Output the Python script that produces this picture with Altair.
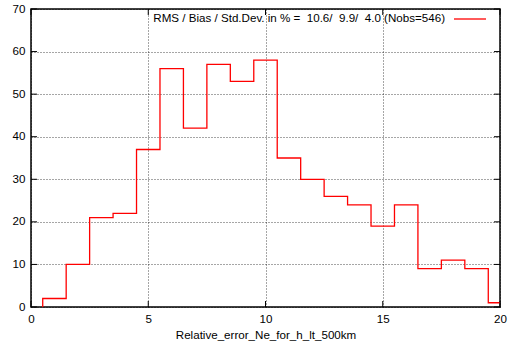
import altair as alt
import pandas as pd

bin_centers = [1, 2, 3, 4, 5, 6, 7, 8, 9, 10, 11, 12, 13, 14, 15, 16, 17, 18, 19, 20]
counts = [2, 10, 21, 22, 37, 56, 42, 57, 53, 58, 35, 30, 26, 24, 19, 24, 9, 11, 9, 1]
x_ticks = [0, 5, 10, 15, 20]
y_ticks = [0, 10, 20, 30, 40, 50, 60, 70]
legend_text = "RMS / Bias / Std.Dev. in % =  10.6/  9.9/  4.0 (Nobs=546)".replace(" ", "\u00a0")
x_title = "Relative_error_Ne_for_h_lt_500km"

# step line points (gnuplot histeps style)
xs = [bin_centers[0] - 0.5]
ys = [0]
for c, v in zip(bin_centers, counts):
    xs.append(c - 0.5)
    ys.append(v)
xs.append(20)
ys.append(counts[-1])
step_df = pd.DataFrame({"x": xs, "y": ys, "o": list(range(len(xs)))})

W, H = 469, 298
FONT = "Liberation Sans"
FS = 11.6

xscale = alt.Scale(domain=[0, 20], nice=False, zero=False)
yscale = alt.Scale(domain=[0, 70], nice=False)

xaxis = alt.Axis(values=x_ticks, grid=True, gridColor="#000000", gridDash=[1, 2], gridOpacity=0.7,
                 tickSize=0, labelPadding=6, domain=False, labelFont=FONT, labelFontSize=FS,
                 labelFlush=False, labelColor="#000", title=x_title, titleFont=FONT, titleFontSize=FS,
                 titleFontWeight="normal", titleColor="#000", titlePadding=5)
yaxis = alt.Axis(values=y_ticks, grid=True, gridColor="#000000", gridDash=[1, 2], gridOpacity=0.7,
                 tickSize=0, labelPadding=6, domain=False, labelFont=FONT, labelFontSize=FS,
                 labelFlush=False, labelColor="#000", title=None)

line = alt.Chart(step_df).mark_line(color="#ff0000", strokeWidth=1.3, interpolate="step-after", clip=True).encode(
    x=alt.X("x:Q", scale=xscale, axis=xaxis),
    y=alt.Y("y:Q", scale=yscale, axis=yaxis),
    order="o:Q",
)

xt_df = pd.DataFrame({"t": x_ticks})
yt_df = pd.DataFrame({"t": y_ticks})
TL = 6
xt_bot = alt.Chart(xt_df).mark_rule(color="#000", strokeWidth=1).encode(
    x=alt.X("t:Q", scale=xscale), y=alt.value(H), y2=alt.value(H - TL))
xt_top = alt.Chart(xt_df).mark_rule(color="#000", strokeWidth=1).encode(
    x=alt.X("t:Q", scale=xscale), y=alt.value(0), y2=alt.value(TL))
yt_left = alt.Chart(yt_df).mark_rule(color="#000", strokeWidth=1).encode(
    y=alt.Y("t:Q", scale=yscale), x=alt.value(0), x2=alt.value(TL))
yt_right = alt.Chart(yt_df).mark_rule(color="#000", strokeWidth=1).encode(
    y=alt.Y("t:Q", scale=yscale), x=alt.value(W), x2=alt.value(W - TL))

leg_df = pd.DataFrame({"label": [legend_text]})
leg_text = alt.Chart(leg_df).mark_text(align="right", baseline="middle", font=FONT, fontSize=FS,
                                       color="#000").encode(
    x=alt.value(414), y=alt.value(10), text="label:N")
leg_line = alt.Chart(leg_df).mark_rule(color="#ff0000", strokeWidth=1.3).encode(
    x=alt.value(423), x2=alt.value(455), y=alt.value(10))

chart = alt.layer(line, xt_bot, xt_top, yt_left, yt_right, leg_text, leg_line).properties(
    width=W, height=H,
    autosize=alt.AutoSizeParams(type="none"),
    padding={"left": 31, "top": 9, "right": 9, "bottom": 37},
    background="white",
).configure_view(stroke="#000", strokeWidth=1.5)

chart.save("out.html", embed_options={"renderer": "svg", "actions": False})
